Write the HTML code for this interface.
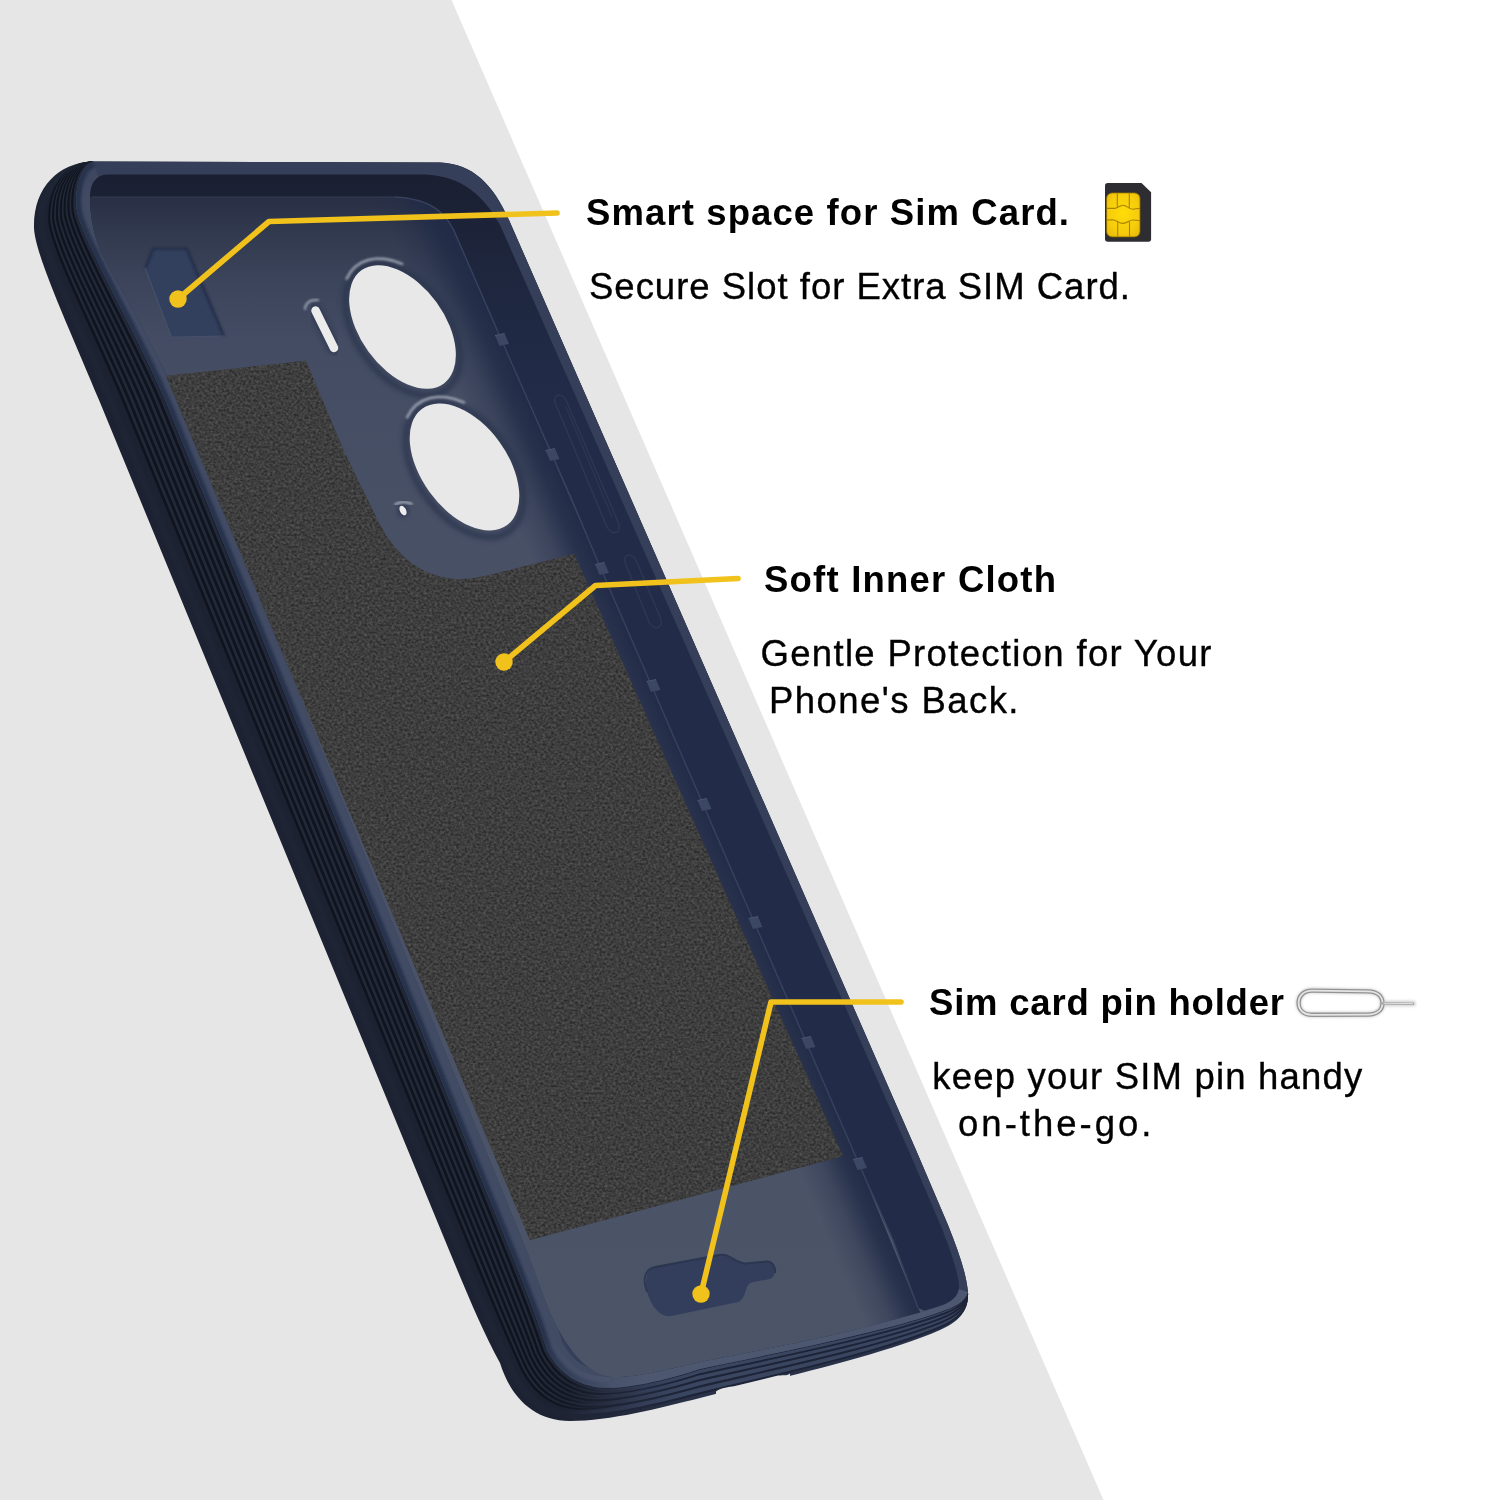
<!DOCTYPE html>
<html lang="en"><head><meta charset="utf-8"><title>Case features</title>
<style>html,body{margin:0;padding:0;background:#fff}body{width:1500px;height:1500px;overflow:hidden}svg{display:block}</style>
</head><body>
<svg width="1500" height="1500" viewBox="0 0 1500 1500">
<defs>
<linearGradient id="gFloor" gradientUnits="userSpaceOnUse" x1="0" y1="197" x2="0" y2="1380">
 <stop offset="0" stop-color="#282f44"/><stop offset="0.028" stop-color="#31394e"/><stop offset="0.07" stop-color="#3b445a"/>
 <stop offset="0.12" stop-color="#434c62"/><stop offset="0.26" stop-color="#485066"/><stop offset="1" stop-color="#4c5468"/>
</linearGradient>
<linearGradient id="gShade" gradientUnits="userSpaceOnUse" x1="601" y1="569" x2="546" y2="593">
 <stop offset="0" stop-color="#202a46" stop-opacity="0.95"/><stop offset="0.25" stop-color="#202a46" stop-opacity="0.8"/><stop offset="0.6" stop-color="#202a46" stop-opacity="0.3"/><stop offset="1" stop-color="#202a46" stop-opacity="0"/>
</linearGradient>
<linearGradient id="gWall" gradientUnits="userSpaceOnUse" x1="0" y1="174" x2="0" y2="400">
 <stop offset="0" stop-color="#1a1f31"/><stop offset="0.4" stop-color="#1e263d"/><stop offset="1" stop-color="#222c49"/>
</linearGradient>
<linearGradient id="gRimL" gradientUnits="userSpaceOnUse" x1="288" y1="700" x2="301" y2="694.6">
 <stop offset="0" stop-color="#323d5a"/><stop offset="0.45" stop-color="#45516e"/><stop offset="1" stop-color="#424c66"/>
</linearGradient>
<linearGradient id="gRib" gradientUnits="userSpaceOnUse" x1="570" y1="1380" x2="690" y2="1400">
 <stop offset="0" stop-color="#1c2231"/><stop offset="1" stop-color="#2a3249"/>
</linearGradient>
<linearGradient id="gRibLineL" gradientUnits="userSpaceOnUse" x1="540" y1="1380" x2="650" y2="1400">
 <stop offset="0" stop-color="#10141e"/><stop offset="1" stop-color="#10141e" stop-opacity="0"/>
</linearGradient>
<linearGradient id="gRibHiL" gradientUnits="userSpaceOnUse" x1="540" y1="1380" x2="650" y2="1400">
 <stop offset="0" stop-color="#222939"/><stop offset="1" stop-color="#222939" stop-opacity="0"/>
</linearGradient>
<linearGradient id="gRibLineB" gradientUnits="userSpaceOnUse" x1="570" y1="1380" x2="680" y2="1400">
 <stop offset="0" stop-color="#1d2438" stop-opacity="0"/><stop offset="1" stop-color="#1d2438"/>
</linearGradient>
<linearGradient id="gRibHiB" gradientUnits="userSpaceOnUse" x1="570" y1="1380" x2="680" y2="1400">
 <stop offset="0" stop-color="#3a4560" stop-opacity="0"/><stop offset="1" stop-color="#3a4560"/>
</linearGradient>
<linearGradient id="gRimB" gradientUnits="userSpaceOnUse" x1="540" y1="1340" x2="640" y2="1380">
 <stop offset="0" stop-color="#4d5770" stop-opacity="0"/><stop offset="1" stop-color="#4d5770"/>
</linearGradient>
<radialGradient id="gChip" cx="0.5" cy="0.45" r="0.75">
 <stop offset="0" stop-color="#ffdc08"/><stop offset="0.6" stop-color="#f6cc0c"/><stop offset="1" stop-color="#e3b40a"/>
</radialGradient>
<linearGradient id="gRimFade" gradientUnits="userSpaceOnUse" x1="100" y1="150" x2="100" y2="200">
 <stop offset="0" stop-color="#424b64" stop-opacity="0.3"/><stop offset="1" stop-color="#424b64"/>
</linearGradient>
<filter id="noise" x="0" y="0" width="100%" height="100%" color-interpolation-filters="sRGB">
 <feTurbulence type="fractalNoise" baseFrequency="0.37 0.41" numOctaves="2" seed="7" result="n"/>
 <feColorMatrix in="n" type="matrix" values="0.26 0 0 0 0.114  0.26 0 0 0 0.114  0.26 0 0 0 0.114  0 0 0 0 1"/>
 <feComposite in2="SourceGraphic" operator="in"/>
</filter>
<filter id="blur2" x="-20%" y="-20%" width="140%" height="140%"><feGaussianBlur stdDeviation="2"/></filter>
<filter id="blur1" x="-20%" y="-20%" width="140%" height="140%"><feGaussianBlur stdDeviation="1.2"/></filter>
<filter id="blur4" x="-20%" y="-20%" width="140%" height="140%"><feGaussianBlur stdDeviation="4"/></filter>
<clipPath id="cOuter"><path d="M 92,161.5 L 440,162.5 C 473,164 493,184 509,220 L 916,1150 L 948,1225 C 958,1250 966,1272 968,1292 C 969.0,1312.0 958.0,1322.0 940.0,1330.0 C 880.0,1356.0 780.0,1378.0 700.0,1398.0 C 660.0,1408.0 610.0,1421.0 570.0,1421.0 C 532.0,1421.0 510.0,1395.0 500.0,1363.0 C 482.0,1330.0 466.0,1291.0 449.0,1250.0 C 332.3,966.7 215.7,683.3 99.0,400.0 C 70.0,330.0 35.0,255.0 34.0,228.0 C 33.0,188.0 58.0,163.0 92.0,161.5 Z"/></clipPath>
<clipPath id="cFloor"><path d="M 90,197 L 395,197 C 432,199 448,213 458,240 L 501.5,340 L 572,500 L 601,569 L 859,1164 L 893,1240 L 918,1308 L 925,1311 C 925,1311 880,1324 850,1331 C 800,1343 750,1352 710,1360 C 680,1366 640,1378 612,1377 C 585,1376 560,1340 545,1300 L 526.5,1250 L 301,700 L 178,400 C 150,335 108,270 100,250 C 93,232 90,215 90,197 Z"/></clipPath>
<clipPath id="cRi"><path d="M 107,174.5 L 425,174.5 C 462,176 485,196 501,227 L 908.5,1150 L 940.5,1225 C 949,1246 957,1268 959,1284 C 960,1296 952,1302 940,1306 C 925,1311 880,1324 850,1331 C 800,1343 750,1352 710,1360 C 680,1366 640,1378 612,1377 C 585,1376 560,1340 545,1300 L 526.5,1250 L 301,700 L 178,400 C 150,335 108,270 100,250 C 93,232 90,215 90,197 C 90,183 96,175 107,174.5 Z"/></clipPath>
</defs>
<rect width="1500" height="1500" fill="#ffffff"/>
<polygon points="0,0 451.5,0 1103.5,1500 0,1500" fill="#e6e6e6"/>
<path d="M 92,161.5 L 440,162.5 C 473,164 493,184 509,220 L 916,1150 L 948,1225 C 958,1250 966,1272 968,1292 C 969.0,1312.0 958.0,1322.0 940.0,1330.0 C 880.0,1356.0 780.0,1378.0 700.0,1398.0 C 660.0,1408.0 610.0,1421.0 570.0,1421.0 C 532.0,1421.0 510.0,1395.0 500.0,1363.0 C 482.0,1330.0 466.0,1291.0 449.0,1250.0 C 332.3,966.7 215.7,683.3 99.0,400.0 C 70.0,330.0 35.0,255.0 34.0,228.0 C 33.0,188.0 58.0,163.0 92.0,161.5 Z" fill="url(#gRib)"/>
<g clip-path="url(#cOuter)" fill="none">
<path d="M 92.4,161.7 C 66.7,164.1 47.9,186.9 49.6,221.4 C 52.1,249.5 93.7,330.0 123.1,400.0 C 239.1,682.2 355.2,966.7 471.2,1250.0 C 486.8,1288.1 501.3,1323.4 517.1,1358.3 C 528.2,1387.7 549.5,1409.0 584.6,1409.0 C 620.9,1408.6 667.3,1396.3 700.0,1387.4 C 780.0,1368.5 880.0,1347.6 940.0,1323.4 C 956.9,1316.5 967.5,1308.4 968.0,1292.0 " stroke="url(#gRibLineL)" stroke-width="2.8"/>
<path d="M 92.4,161.7 C 67.8,164.2 49.8,186.8 51.5,220.6 C 54.3,248.8 96.7,330.0 126.1,400.0 C 242.1,682.1 358.0,966.7 474.0,1250.0 C 489.4,1287.7 503.7,1322.6 519.3,1357.7 C 530.5,1386.8 551.7,1407.5 586.4,1407.5 C 622.3,1407.1 668.2,1394.9 700.0,1386.1 C 780.0,1367.3 880.0,1346.6 940.0,1322.6 C 956.8,1315.8 967.4,1307.9 968.0,1292.0 " stroke="url(#gRibHiL)" stroke-width="2.2"/>
<path d="M 92.5,161.7 C 68.9,164.4 51.7,186.6 53.5,219.8 C 56.4,248.2 99.6,330.0 129.1,400.0 C 245.0,681.9 360.9,966.7 476.8,1250.0 C 492.0,1287.4 506.2,1321.8 521.4,1357.1 C 532.8,1385.9 553.9,1406.0 588.2,1406.0 C 623.7,1405.5 669.1,1393.4 700.0,1384.8 C 780.0,1366.1 880.0,1345.5 940.0,1321.8 C 956.6,1315.2 967.2,1307.4 968.0,1292.0 " stroke="url(#gRibLineL)" stroke-width="2.8"/>
<path d="M 92.5,161.8 C 70.0,164.5 53.6,186.5 55.4,219.0 C 58.6,247.5 102.6,330.0 132.1,400.0 C 248.0,681.8 363.8,966.7 479.6,1250.0 C 494.6,1287.0 508.6,1321.0 523.6,1356.5 C 535.1,1385.0 556.1,1404.4 590.1,1404.4 C 625.1,1403.9 670.0,1391.9 700.0,1383.5 C 780.0,1365.0 880.0,1344.5 940.0,1321.0 C 956.5,1314.5 967.0,1307.0 968.0,1292.0 " stroke="url(#gRibHiL)" stroke-width="2.2"/>
<path d="M 92.5,161.8 C 71.1,164.6 55.4,186.4 57.4,218.1 C 60.7,246.8 105.6,330.0 135.1,400.0 C 250.9,681.7 366.6,966.7 482.4,1250.0 C 497.2,1286.6 511.0,1320.1 525.7,1355.9 C 537.4,1384.1 558.3,1402.9 591.9,1402.9 C 626.4,1402.4 670.9,1390.5 700.0,1382.1 C 780.0,1363.8 880.0,1343.4 940.0,1320.1 C 956.4,1313.8 966.8,1306.5 968.0,1292.0 " stroke="url(#gRibLineL)" stroke-width="2.8"/>
<path d="M 92.6,161.8 C 72.2,164.8 57.3,186.2 59.3,217.3 C 62.9,246.1 108.6,330.0 138.1,400.0 C 253.8,681.5 369.5,966.7 485.2,1250.0 C 499.8,1286.3 513.4,1319.3 527.9,1355.3 C 539.7,1383.1 560.5,1401.4 593.7,1401.4 C 627.8,1400.8 671.9,1389.0 700.0,1380.8 C 780.0,1362.6 880.0,1342.4 940.0,1319.3 C 956.2,1313.1 966.6,1306.1 968.0,1292.0 " stroke="url(#gRibHiL)" stroke-width="2.2"/>
<path d="M 92.6,161.8 C 73.3,164.9 59.2,186.1 61.3,216.5 C 65.0,245.4 111.5,330.0 141.2,400.0 C 256.8,681.4 372.4,966.7 488.0,1250.0 C 502.4,1285.9 515.9,1318.5 530.0,1354.7 C 541.9,1382.2 562.7,1399.9 595.6,1399.9 C 629.2,1399.3 672.8,1387.6 700.0,1379.5 C 780.0,1361.4 880.0,1341.3 940.0,1318.5 C 956.1,1312.4 966.4,1305.6 968.0,1292.0 " stroke="url(#gRibLineL)" stroke-width="2.8"/>
<path d="M 92.7,161.8 C 74.4,165.1 61.1,185.9 63.2,215.7 C 67.2,244.7 114.5,330.0 144.2,400.0 C 259.7,681.2 375.2,966.7 490.8,1250.0 C 505.0,1285.5 518.3,1317.7 532.2,1354.1 C 544.2,1381.3 564.9,1398.4 597.4,1398.4 C 630.5,1397.7 673.7,1386.1 700.0,1378.1 C 780.0,1360.2 880.0,1340.3 940.0,1317.7 C 955.9,1311.7 966.3,1305.2 968.0,1292.0 " stroke="url(#gRibHiL)" stroke-width="2.2"/>
<path d="M 92.7,161.9 C 75.5,165.2 62.9,185.8 65.2,214.9 C 69.3,244.0 117.5,330.0 147.2,400.0 C 262.7,681.1 378.1,966.7 493.5,1250.0 C 507.6,1285.2 520.7,1316.9 534.3,1353.5 C 546.5,1380.4 567.1,1396.9 599.2,1396.9 C 631.9,1396.2 674.6,1384.6 700.0,1376.8 C 780.0,1359.0 880.0,1339.2 940.0,1316.9 C 955.8,1311.0 966.1,1304.7 968.0,1292.0 " stroke="url(#gRibLineL)" stroke-width="2.8"/>
<path d="M 92.8,161.9 C 76.6,165.3 64.8,185.7 67.1,214.0 C 71.5,243.4 120.4,330.0 150.2,400.0 C 265.6,681.0 381.0,966.7 496.3,1250.0 C 510.2,1284.8 523.1,1316.0 536.5,1352.9 C 548.8,1379.5 569.2,1395.4 601.0,1395.4 C 633.3,1394.6 675.5,1383.2 700.0,1375.5 C 780.0,1357.8 880.0,1338.2 940.0,1316.0 C 955.7,1310.4 965.9,1304.2 968.0,1292.0 " stroke="url(#gRibHiL)" stroke-width="2.2"/>
<path d="M 92.8,161.9 C 77.7,165.5 66.7,185.5 69.1,213.2 C 73.6,242.7 123.4,330.0 153.2,400.0 C 268.5,680.8 383.8,966.7 499.1,1250.0 C 512.8,1284.4 525.6,1315.2 538.6,1352.3 C 551.1,1378.6 571.4,1393.9 602.9,1393.9 C 634.7,1393.1 676.4,1381.7 700.0,1374.2 C 780.0,1356.6 880.0,1337.1 940.0,1315.2 C 955.5,1309.7 965.7,1303.8 968.0,1292.0 " stroke="url(#gRibLineL)" stroke-width="2.8"/>
<path d="M 92.9,161.9 C 78.8,165.6 68.6,185.4 71.0,212.4 C 75.8,242.0 126.4,330.0 156.3,400.0 C 271.5,680.7 386.7,966.7 501.9,1250.0 C 515.4,1284.1 528.0,1314.4 540.8,1351.7 C 553.4,1377.7 573.6,1392.4 604.7,1392.4 C 636.0,1391.5 677.3,1380.2 700.0,1372.8 C 780.0,1355.4 880.0,1336.0 940.0,1314.4 C 955.4,1309.0 965.5,1303.3 968.0,1292.0 " stroke="url(#gRibHiL)" stroke-width="2.2"/>
<path d="M 92.9,162.0 C 79.9,165.7 70.4,185.3 73.0,211.6 C 77.9,241.3 129.4,330.0 159.3,400.0 C 274.4,680.6 389.6,966.7 504.7,1250.0 C 518.0,1283.7 530.4,1313.6 542.9,1351.1 C 555.7,1376.7 575.8,1390.9 606.5,1390.9 C 637.4,1390.0 678.3,1378.8 700.0,1371.5 C 780.0,1354.3 880.0,1335.0 940.0,1313.6 C 955.3,1308.3 965.3,1302.9 968.0,1292.0 " stroke="url(#gRibLineL)" stroke-width="2.8"/>
<path d="M 93.0,162.0 C 81.0,165.9 72.3,185.1 74.9,210.7 C 80.1,240.6 132.3,330.0 162.3,400.0 C 277.4,680.4 392.4,966.7 507.5,1250.0 C 520.7,1283.3 532.8,1312.7 545.1,1350.5 C 557.9,1375.8 578.0,1389.4 608.4,1389.4 C 638.8,1388.4 679.2,1377.3 700.0,1370.2 C 780.0,1353.1 880.0,1333.9 940.0,1312.7 C 955.1,1307.6 965.2,1302.4 968.0,1292.0 " stroke="url(#gRibHiL)" stroke-width="2.2"/>
<path d="M 92.2,161.6 C 62.1,163.5 40.0,187.5 41.3,224.9 C 43.0,252.4 81.0,330.0 110.2,400.0 C 226.6,682.8 343.0,966.7 459.4,1250.0 C 475.7,1289.6 491.0,1326.9 508.0,1360.8 C 518.5,1391.6 540.2,1415.4 576.8,1415.4 C 615.1,1415.2 663.4,1402.6 700.0,1393.1 C 780.0,1373.6 880.0,1352.1 940.0,1326.9 C 957.5,1319.5 968.3,1310.3 968.0,1292.0 " stroke="url(#gRibHiL)" stroke-width="7" opacity="0.3"/>
<path d="M 466.1,1250.0 C 482.0,1288.8 496.8,1325.0 513.2,1359.4 C 524.0,1389.4 545.4,1411.8 581.2,1411.8 C 618.4,1411.5 665.6,1399.0 700.0,1389.9 C 780.0,1370.7 880.0,1349.6 940.0,1325.0 C 957.2,1317.8 967.9,1309.2 968.0,1292.0 " stroke="url(#gRibHiB)" stroke-width="4.2"/>
<path d="M 480.1,1250.0 C 495.1,1286.9 509.0,1320.8 524.0,1356.4 C 535.5,1384.8 556.5,1404.2 590.4,1404.2 C 625.3,1403.7 670.2,1391.7 700.0,1383.2 C 780.0,1364.7 880.0,1344.3 940.0,1320.8 C 956.5,1314.3 967.0,1306.9 968.0,1292.0 " stroke="url(#gRibHiB)" stroke-width="4.2"/>
<path d="M 492.9,1250.0 C 507.0,1285.2 520.2,1317.0 533.8,1353.6 C 546.0,1380.6 566.6,1397.2 598.8,1397.2 C 631.6,1396.5 674.4,1385.0 700.0,1377.1 C 780.0,1359.3 880.0,1339.4 940.0,1317.0 C 955.8,1311.2 966.1,1304.8 968.0,1292.0 " stroke="url(#gRibHiB)" stroke-width="4.2"/>
<path d="M 504.5,1250.0 C 517.9,1283.7 530.2,1313.6 542.8,1351.2 C 555.5,1376.8 575.7,1391.0 606.4,1391.0 C 637.3,1390.1 678.2,1378.9 700.0,1371.6 C 780.0,1354.3 880.0,1335.1 940.0,1313.6 C 955.3,1308.3 965.4,1302.9 968.0,1292.0 " stroke="url(#gRibHiB)" stroke-width="4.2"/>
<path d="M 458.8,1250.0 C 475.1,1289.7 490.5,1327.1 507.5,1360.9 C 518.0,1391.8 539.7,1415.7 576.4,1415.7 C 614.8,1415.6 663.2,1402.9 700.0,1393.4 C 780.0,1373.8 880.0,1352.3 940.0,1327.1 C 957.5,1319.6 968.4,1310.4 968.0,1292.0 " stroke="url(#gRibLineB)" stroke-width="1.9"/>
<path d="M 473.4,1250.0 C 488.8,1287.8 503.2,1322.8 518.8,1357.8 C 530.0,1387.0 551.2,1407.8 586.0,1407.8 C 622.0,1407.4 668.0,1395.2 700.0,1386.4 C 780.0,1367.6 880.0,1346.8 940.0,1322.8 C 956.8,1316.0 967.4,1308.0 968.0,1292.0 " stroke="url(#gRibLineB)" stroke-width="1.9"/>
<path d="M 486.8,1250.0 C 501.3,1286.0 514.9,1318.8 529.1,1354.9 C 541.0,1382.6 561.8,1400.5 594.8,1400.5 C 628.6,1399.9 672.4,1388.2 700.0,1380.0 C 780.0,1361.9 880.0,1341.7 940.0,1318.8 C 956.1,1312.7 966.5,1305.8 968.0,1292.0 " stroke="url(#gRibLineB)" stroke-width="1.9"/>
<path d="M 499.0,1250.0 C 512.7,1284.4 525.5,1315.2 538.5,1352.3 C 551.0,1378.6 571.4,1393.9 602.8,1393.9 C 634.6,1393.1 676.4,1381.8 700.0,1374.2 C 780.0,1356.7 880.0,1337.1 940.0,1315.2 C 955.5,1309.7 965.7,1303.8 968.0,1292.0 " stroke="url(#gRibLineB)" stroke-width="1.9"/>
<path d="M 510.0,1250.0 C 523.0,1283.0 535.0,1312.0 547.0,1350.0 C 560.0,1375.0 580.0,1388.0 610.0,1388.0 C 640.0,1387.0 680.0,1376.0 700.0,1369.0 C 780.0,1352.0 880.0,1333.0 940.0,1312.0 C 955.0,1307.0 965.0,1302.0 968.0,1292.0 " stroke="url(#gRibLineB)" stroke-width="1.6"/>
</g>
<path d="M 716,1391.5 C 722,1387 728,1387.5 735,1386 L 776,1376 C 783,1374.5 786,1376.5 790,1373.5 L 790,1380 L 716,1398 Z" fill="#e6e6e6"/>
<path d="M 92,161.5 L 440,162.5 C 473,164 493,184 509,220 L 916,1150 L 948,1225 C 958,1250 966,1272 968,1292 C 965.0,1302.0 955.0,1307.0 940.0,1312.0 C 880.0,1333.0 780.0,1352.0 700.0,1369.0 C 680.0,1376.0 640.0,1387.0 610.0,1388.0 C 580.0,1388.0 560.0,1375.0 547.0,1350.0 C 535.0,1312.0 523.0,1283.0 510.0,1250.0 C 395.0,966.7 280.0,680.3 165.0,400.0 C 135.0,330.0 82.0,240.0 76.7,210.0 C 74.0,185.0 82.0,166.0 93.0,162.0  L 92,161.5 Z" fill="#363f59"/>
<clipPath id="cRim"><path d="M 92,161.5 L 440,162.5 C 473,164 493,184 509,220 L 916,1150 L 948,1225 C 958,1250 966,1272 968,1292 C 965.0,1302.0 955.0,1307.0 940.0,1312.0 C 880.0,1333.0 780.0,1352.0 700.0,1369.0 C 680.0,1376.0 640.0,1387.0 610.0,1388.0 C 580.0,1388.0 560.0,1375.0 547.0,1350.0 C 535.0,1312.0 523.0,1283.0 510.0,1250.0 C 395.0,966.7 280.0,680.3 165.0,400.0 C 135.0,330.0 82.0,240.0 76.7,210.0 C 74.0,185.0 82.0,166.0 93.0,162.0  L 92,161.5 Z"/></clipPath>
<g clip-path="url(#cRim)" fill="none">
<path d="M 93.0,162.0 C 82.0,166.0 74.0,185.0 76.7,210.0 C 82.0,240.0 135.0,330.0 165.0,400.0 C 280.0,680.3 395.0,966.7 510.0,1250.0 C 523.0,1283.0 535.0,1312.0 547.0,1350.0 C 560.0,1375.0 580.0,1388.0 610.0,1388.0 " stroke="url(#gRimFade)" stroke-width="34"/>
<path d="M 93.0,162.0 C 82.0,166.0 74.0,185.0 76.7,210.0 C 82.0,240.0 135.0,330.0 165.0,400.0 C 280.0,680.3 395.0,966.7 510.0,1250.0 C 523.0,1283.0 535.0,1312.0 547.0,1350.0 C 560.0,1375.0 580.0,1388.0 610.0,1388.0 " stroke="#28324c" stroke-width="10" filter="url(#blur1)" opacity="0.95"/>
<path d="M 510.0,1250.0 C 523.0,1283.0 535.0,1312.0 547.0,1350.0 C 560.0,1375.0 580.0,1388.0 610.0,1388.0 C 640.0,1387.0 680.0,1376.0 700.0,1369.0 C 780.0,1352.0 880.0,1333.0 940.0,1312.0 C 955.0,1307.0 965.0,1302.0 968.0,1292.0 " stroke="url(#gRimB)" stroke-width="22"/>
</g>
<path d="M 107,174.5 L 425,174.5 C 462,176 485,196 501,227 L 908.5,1150 L 940.5,1225 C 949,1246 957,1268 959,1284 C 960,1296 952,1302 940,1306 C 925,1311 880,1324 850,1331 C 800,1343 750,1352 710,1360 C 680,1366 640,1378 612,1377 C 585,1376 560,1340 545,1300 L 526.5,1250 L 301,700 L 178,400 C 150,335 108,270 100,250 C 93,232 90,215 90,197 C 90,183 96,175 107,174.5 Z" fill="url(#gWall)"/>
<path d="M 90,197 L 395,197 C 432,199 448,213 458,240 L 501.5,340 L 572,500 L 601,569 L 859,1164 L 893,1240 L 918,1308 L 925,1311 C 925,1311 880,1324 850,1331 C 800,1343 750,1352 710,1360 C 680,1366 640,1378 612,1377 C 585,1376 560,1340 545,1300 L 526.5,1250 L 301,700 L 178,400 C 150,335 108,270 100,250 C 93,232 90,215 90,197 Z" fill="url(#gFloor)"/>
<g clip-path="url(#cFloor)">
<path d="M 395,197 C 432,199 448,213 458,240 L 501.5,340 L 601,569 L 859,1164 L 918,1308 L 930,1330 L 800,1400 L 794,1192 L 536,597 L 436,366 L 400,270 L 340,197 Z" fill="url(#gShade)"/>
</g>
<path d="M 92,197 L 395,197" stroke="#3a445d" stroke-width="1" fill="none" opacity="0.8"/>
<path d="M 166,376 L 305.8,360.8 L 343.3,450 L 375,515 C 390,548 415,576 455,579 C 470,579.5 480,577 490,575 L 574,554 L 843,1156 L 530,1240 Z" fill="#3b3b3b"/>
<path d="M 166,376 L 305.8,360.8 L 343.3,450 L 375,515 C 390,548 415,576 455,579 C 470,579.5 480,577 490,575 L 574,554 L 843,1156 L 530,1240 Z" fill="#3b3b3b" filter="url(#noise)"/>
<path d="M 153,248 L 187,248 L 224.5,336 L 171.5,337 L 145,268 Z" fill="#32405e"/>
<path d="M 145.5,268 L 153.5,248.6 L 186.6,248.6 L 224,336" fill="none" stroke="#232c44" stroke-width="2.4" stroke-linejoin="round" filter="url(#blur1)" opacity="0.9"/>
<path d="M 224.5,336 L 171.5,337 L 145,268" fill="none" stroke="#4a5570" stroke-width="1.2" opacity="0.7"/>
<g transform="rotate(54 402.5 327)">
<ellipse cx="404.5" cy="328.5" rx="74" ry="46" fill="none" stroke="#2b344e" stroke-width="7" filter="url(#blur2)" opacity="0.7"/>
<path d="M 330.6,343.9 A 76.5 49.5 0 0 1 351.3,290.2" fill="none" stroke="#cfd5e0" stroke-width="2.4" stroke-linecap="round" filter="url(#blur1)" opacity="0.7"/>
<ellipse cx="402.5" cy="327" rx="70" ry="42" fill="#e8e8e8"/>
</g>
<g transform="rotate(54 464.5 467)">
<ellipse cx="466.5" cy="468.5" rx="76" ry="47" fill="none" stroke="#2b344e" stroke-width="7" filter="url(#blur2)" opacity="0.7"/>
<path d="M 390.7,484.3 A 78.5 50.5 0 0 1 412.0,429.5" fill="none" stroke="#cfd5e0" stroke-width="2.4" stroke-linecap="round" filter="url(#blur1)" opacity="0.7"/>
<ellipse cx="464.5" cy="467" rx="72" ry="43" fill="#e8e8e8"/>
</g>
<g>
<line x1="315" y1="310" x2="334" y2="348" stroke="#2c3650" stroke-width="14" stroke-linecap="round" filter="url(#blur2)" opacity="0.6"/>
<path d="M 305,309 Q 306,299 318,300" fill="none" stroke="#c9d0dc" stroke-width="2" stroke-linecap="round" filter="url(#blur1)" opacity="0.7"/>
<line x1="315.5" y1="310.5" x2="334" y2="348" stroke="#ebebeb" stroke-width="8.5" stroke-linecap="round"/>
</g>
<ellipse cx="403" cy="510.5" rx="6" ry="7" fill="#2c3650" filter="url(#blur2)" opacity="0.7"/>
<path d="M 395,504.5 Q 403,500 412,504" fill="none" stroke="#dfe3ea" stroke-width="1.6" stroke-linecap="round" filter="url(#blur1)" opacity="0.8"/>
<ellipse cx="403" cy="510.5" rx="3" ry="5.2" transform="rotate(-28 403 510.5)" fill="#ececec"/>
<path d="M 655,1267 L 719,1255 C 730,1253 733,1262 745,1263.5 L 766,1261.5 C 776,1261 778,1276 770,1279 L 753,1282 C 743,1284 748,1298 738,1302 L 671,1316 C 650,1319 636,1272 655,1267 Z" fill="#323e5b"/>
<path d="M 647,1292 C 642,1279 645,1269 655,1267 L 719,1255 C 730,1253 733,1262 745,1263.5 L 766,1261.5 C 773,1261 776,1268 775,1273" fill="none" stroke="#28324c" stroke-width="1.8" opacity="0.85"/>
<g fill="none" stroke="#2d3853" stroke-width="1.4">
<path d="M 556,405 C 551,395 561,391 566,400 L 618,522 C 623,533 612,537 607,527 Z"/>
<path d="M 566,407 L 612,517" opacity="0.8"/>
<path d="M 626,565 C 621,555 631,551 636,560 L 660,617 C 665,628 654,632 649,622 Z"/>
</g>
<path d="M 395,197 C 432,199 448,213 458,240 L 501.5,340 L 572,500 L 601,569 L 859,1164 L 893,1240 L 918,1308" fill="none" stroke="#36415d" stroke-width="1.5"/>
<path d="M 495.0,335.5 l 9.5,-2 l 4.5,10.5 l -9.5,2 z" fill="#3c4764"/>
<path d="M 495.0,335.5 l 9.5,-2" stroke="#4a5572" stroke-width="1" fill="none"/>
<path d="M 545.5,450.5 l 9.5,-2 l 4.5,10.5 l -9.5,2 z" fill="#3c4764"/>
<path d="M 545.5,450.5 l 9.5,-2" stroke="#4a5572" stroke-width="1" fill="none"/>
<path d="M 595.0,564.5 l 9.5,-2 l 4.5,10.5 l -9.5,2 z" fill="#3c4764"/>
<path d="M 595.0,564.5 l 9.5,-2" stroke="#4a5572" stroke-width="1" fill="none"/>
<path d="M 646.5,681.5 l 9.5,-2 l 4.5,10.5 l -9.5,2 z" fill="#3c4764"/>
<path d="M 646.5,681.5 l 9.5,-2" stroke="#4a5572" stroke-width="1" fill="none"/>
<path d="M 697.5,800.5 l 9.5,-2 l 4.5,10.5 l -9.5,2 z" fill="#3c4764"/>
<path d="M 697.5,800.5 l 9.5,-2" stroke="#4a5572" stroke-width="1" fill="none"/>
<path d="M 748.5,918.5 l 9.5,-2 l 4.5,10.5 l -9.5,2 z" fill="#3c4764"/>
<path d="M 748.5,918.5 l 9.5,-2" stroke="#4a5572" stroke-width="1" fill="none"/>
<path d="M 801.5,1038.5 l 9.5,-2 l 4.5,10.5 l -9.5,2 z" fill="#3c4764"/>
<path d="M 801.5,1038.5 l 9.5,-2" stroke="#4a5572" stroke-width="1" fill="none"/>
<path d="M 853.0,1159.5 l 9.5,-2 l 4.5,10.5 l -9.5,2 z" fill="#3c4764"/>
<path d="M 853.0,1159.5 l 9.5,-2" stroke="#4a5572" stroke-width="1" fill="none"/>
<g fill="none" stroke="#f1c21b" stroke-width="5.6" stroke-linecap="round" stroke-linejoin="round">
<path d="M 178,299 L 269,221.5 L 557,213"/>
<path d="M 504,662 L 595.5,585.5 L 738,578.5"/>
<path d="M 701,1294 L 771,1002 L 901,1002"/>
</g>
<circle cx="178" cy="299" r="8.7" fill="#f1c21b"/>
<circle cx="504" cy="662" r="8.7" fill="#f1c21b"/>
<circle cx="701" cy="1294" r="8.7" fill="#f1c21b"/>
<g font-family="'Liberation Sans', Arial, Helvetica, sans-serif" fill="#000000" opacity="0.999">
<text x="586" y="225" font-size="36.5" font-weight="700" textLength="483" lengthAdjust="spacing">Smart space for Sim Card.</text>
<text x="589" y="298.5" font-size="36.5" font-weight="400" textLength="541" lengthAdjust="spacing" stroke="#000" stroke-width="0.35">Secure Slot for Extra SIM Card.</text>
<text x="764" y="591.5" font-size="36.5" font-weight="700" textLength="292" lengthAdjust="spacing">Soft Inner Cloth</text>
<text x="760.5" y="666" font-size="36.5" font-weight="400" textLength="451" lengthAdjust="spacing" stroke="#000" stroke-width="0.35">Gentle Protection for Your</text>
<text x="769" y="713" font-size="36.5" font-weight="400" textLength="249.5" lengthAdjust="spacing" stroke="#000" stroke-width="0.35">Phone&#39;s Back.</text>
<text x="929" y="1015" font-size="36.5" font-weight="700" textLength="355" lengthAdjust="spacing">Sim card pin holder</text>
<text x="932.3" y="1089" font-size="36.5" font-weight="400" textLength="430" lengthAdjust="spacing" stroke="#000" stroke-width="0.35">keep your SIM pin handy</text>
<text x="958" y="1135.5" font-size="36.5" font-weight="400" textLength="193.5" lengthAdjust="spacing" stroke="#000" stroke-width="0.35">on-the-go.</text>
</g>
<g>
<path d="M 1107.8,183.1 L 1141.5,183.1 L 1151.1,192.3 L 1151.1,239 Q 1151.1,241.7 1148.4,241.7 L 1107.8,241.7 Q 1105,241.7 1105,239 L 1105,185.8 Q 1105,183.1 1107.8,183.1 Z" fill="#2d2d32"/>
<rect x="1106.6" y="192.9" width="33.4" height="44" rx="5.5" fill="url(#gChip)" stroke="#8a6a00" stroke-width="0.8"/>
<g fill="none" stroke="#a88300" stroke-width="1.1" stroke-linecap="round">
<path d="M 1107.2,208.4 L 1114.5,208.4 C 1118,208.4 1119.5,205.2 1123,205.2 C 1127,205.2 1128.5,209.2 1132.7,209.2 C 1135.5,209.2 1137,208.4 1139.4,208.4"/>
<path d="M 1107.2,220 L 1112.5,219.7 C 1116.5,219.7 1118.5,223.4 1123,223.4 C 1127.5,223.4 1129,220 1132.7,220 C 1135.5,220 1137,220.6 1139.4,220.6"/>
<path d="M 1117.3,193.3 L 1117.3,207 M 1129.3,193.3 L 1129.3,208 M 1117.7,222.5 L 1117.7,236.5 M 1129.5,222 L 1129.5,236.5"/>
</g></g>
<g fill="none" stroke-linecap="round" stroke-linejoin="round">
<path d="M 1382.5,1003.3 C 1382.5,996 1377,991.6 1368,991.4 L 1312,990.6 C 1303.5,990.6 1298.6,996 1298.6,1002.8 C 1298.6,1010 1303.5,1014.8 1312,1014.8 L 1368,1014.6 C 1377,1014.4 1382.5,1010 1382.5,1003.3 Z M 1382.5,1003.3 L 1413,1003.6" stroke="#b8b8b8" stroke-width="6" filter="url(#blur1)" opacity="0.55"/>
<path d="M 1382.5,1003.3 C 1382.5,996 1377,991.6 1368,991.4 L 1312,990.6 C 1303.5,990.6 1298.6,996 1298.6,1002.8 C 1298.6,1010 1303.5,1014.8 1312,1014.8 L 1368,1014.6 C 1377,1014.4 1382.5,1010 1382.5,1003.3 Z" stroke="#939393" stroke-width="4.4"/>
<path d="M 1382.5,1003.3 C 1382.5,996 1377,991.6 1368,991.4 L 1312,990.6 C 1303.5,990.6 1298.6,996 1298.6,1002.8 C 1298.6,1010 1303.5,1014.8 1312,1014.8 L 1368,1014.6 C 1377,1014.4 1382.5,1010 1382.5,1003.3 Z" stroke="#e4e4e4" stroke-width="1.8"/>
<path d="M 1381,1003.2 C 1386,1003.2 1388,1003.4 1392,1003.5 L 1413,1003.7" stroke="#a9a9a9" stroke-width="2.6"/>
<path d="M 1384,1003.2 L 1412.5,1003.6" stroke="#e2e2e2" stroke-width="1"/>
</g>
</svg>
</body></html>
